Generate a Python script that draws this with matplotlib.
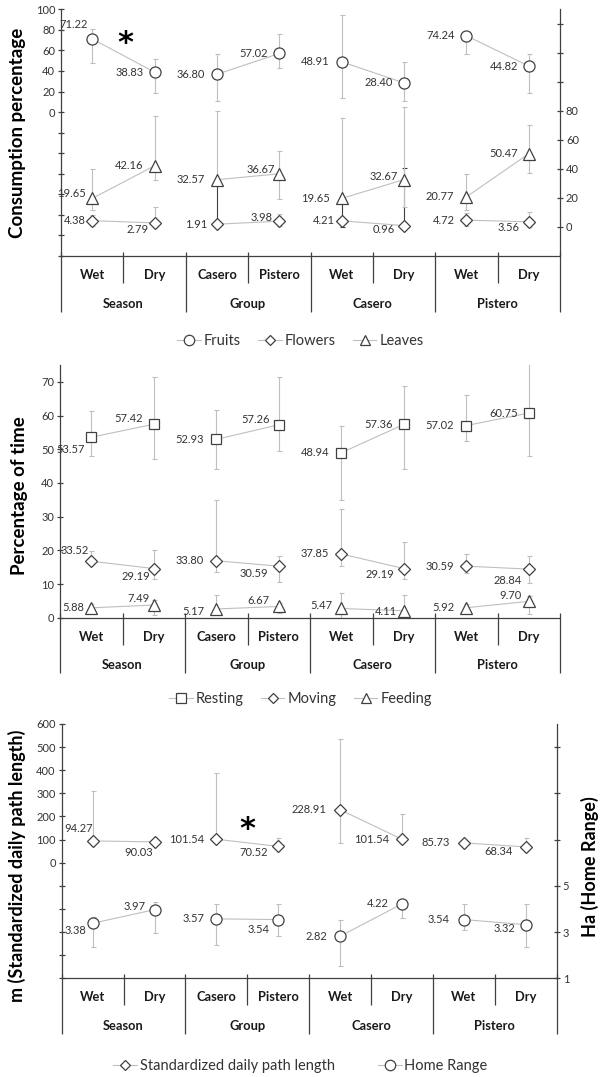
import matplotlib
matplotlib.use('Agg')
import matplotlib.pyplot as plt
from matplotlib.lines import Line2D

plt.rcParams['font.family'] = ['Lato', 'DejaVu Sans']
plt.rcParams['mathtext.fontset'] = 'dejavusans'

# ---------------- data ----------------
sub_labels = ['Wet', 'Dry', 'Casero', 'Pistero', 'Wet', 'Dry', 'Wet', 'Dry']
group_labels = ['Season', 'Group', 'Casero', 'Pistero']

# panel 1: diet
fruits = [71.22, 38.83, 36.80, 57.02, 48.91, 28.40, 74.24, 44.82]
fruits_lo = [47.5, 18.1, 10.7, 42.5, 13.3, 10.4, 57.0, 18.1]
fruits_hi = [80.7, 51.8, 57.0, 75.8, 94.6, 48.6, 78.0, 56.4]
flowers = [4.38, 2.79, 1.91, 3.98, 4.21, 0.96, 4.72, 3.56]
flowers_lo = [1.0, 0.0, 0.5, 1.0, 0.0, 0.0, 1.0, 0.0]
flowers_hi = [8.0, 13.6, 30.0, 9.0, 18.0, 40.7, 9.6, 10.0]
leaves = [19.65, 42.16, 32.57, 36.67, 19.65, 32.67, 20.77, 50.47]
leaves_lo = [12.0, 32.4, 30.0, 19.3, 18.0, 14.0, 11.7, 37.4]
leaves_hi = [40.0, 76.6, 80.0, 52.6, 75.4, 83.0, 36.3, 70.3]

p1_left_ticks = [-140, -120, -100, -80, -60, -40, -20, 0, 20, 40, 60, 80, 100]
p1_left_labels = ['', '', '', '', '', '', '', '0', '20', '40', '60', '80', '100']
p1_right_ticks = [0, 20, 40, 60, 80, 100, 120, 140]
p1_right_labels = ['0', '20', '40', '60', '80', '', '', '']

# panel 2: activity budget
resting = [53.57, 57.42, 52.93, 57.26, 48.94, 57.36, 57.02, 60.75]
resting_lo = [47.9, 47.1, 44.2, 49.4, 35.0, 44.0, 52.4, 47.9]
resting_hi = [61.3, 71.3, 61.5, 71.5, 56.8, 68.8, 66.1, 80.0]
moving = [33.52, 29.19, 33.80, 30.59, 37.85, 29.19, 30.59, 28.84]
moving_lo = [31.0, 23.0, 27.0, 21.0, 30.4, 23.0, 26.4, 20.5]
moving_hi = [39.3, 39.9, 70.0, 36.9, 64.7, 45.2, 37.7, 36.9]
feeding = [5.88, 7.49, 5.17, 6.67, 5.47, 4.11, 5.92, 9.70]
feeding_lo = [4.0, 1.6, 2.0, 3.0, 0.0, 0.0, 4.0, 2.2]
feeding_hi = [8.0, 10.5, 13.5, 8.5, 14.5, 13.5, 8.0, 12.9]

p2_ticks = [0, 10, 20, 30, 40, 50, 60, 70]
p2_labels = ['0', '10', '20', '30', '40', '50', '60', '70']

# panel 3: ranging
path = [94.27, 90.03, 101.54, 70.52, 228.91, 101.54, 85.73, 68.34]
path_lo = [80.0, 85.0, 90.0, 60.0, 85.0, 95.0, 80.0, 60.0]
path_hi = [309.0, 95.0, 388.0, 107.0, 533.0, 212.0, 95.0, 107.0]
home = [3.38, 3.97, 3.57, 3.54, 2.82, 4.22, 3.54, 3.32]
home_lo = [2.36, 2.98, 2.43, 2.82, 1.54, 3.62, 3.10, 2.36]
home_hi = [3.65, 4.32, 4.22, 4.20, 3.51, 4.30, 4.22, 4.22]

p3_left_ticks = [-500, -400, -300, -200, -100, 0, 100, 200, 300, 400, 500, 600]
p3_left_labels = ['', '', '', '', '', '0', '100', '200', '300', '400', '500', '600']
p3_right_ticks = [1, 3, 5, 7, 9, 11]
p3_right_labels = ['1', '3', '5', '', '', '']

# ---------------- style ----------------
W, H = 601, 1077
fig = plt.figure(figsize=(W / 100, H / 100), dpi=100)

AX = '#404040'
ERR = '#bfbfbf'
LINE = '#bfbfbf'
TXT = '#333333'
X = list(range(8))
PAIRS = [(0, 1), (2, 3), (4, 5), (6, 7)]


def add_axes(left, right, top, bottom):
    return fig.add_axes([left / W, 1 - bottom / H, (right - left) / W, (bottom - top) / H])


def style_axis(ax, side):
    for s in ['top', 'bottom', 'left', 'right']:
        ax.spines[s].set_visible(False)
    if side:
        ax.spines[side].set_visible(True)
        ax.spines[side].set_color(AX)
        ax.spines[side].set_linewidth(0.9)
    ax.tick_params(axis='y', direction='inout', length=4.5, width=0.9, color=AX,
                   labelsize=8, labelcolor=TXT, pad=2)
    ax.set_xticks([])


def cat_axis(ax, h_px):
    tr = ax.get_xaxis_transform()
    k = dict(color=AX, lw=0.9, transform=tr, clip_on=False, solid_capstyle='butt')
    up = 4.5 / h_px
    ax.plot([-0.5, 7.5], [0, 0], **k)
    for b in [0.5, 2.5, 4.5, 6.5]:
        ax.plot([b, b], [up, -27 / h_px], **k)
    for b in [-0.5, 1.5, 3.5, 5.5, 7.5]:
        ax.plot([b, b], [up, -55.5 / h_px], **k)
    for i, lab in enumerate(sub_labels):
        ax.text(i, -19 / h_px, lab, transform=tr, ha='center', va='center',
                fontsize=9.3, fontweight='bold', color='#1a1a1a')
    for g, lab in enumerate(group_labels):
        ax.text(2 * g + 0.5, -47.5 / h_px, lab, transform=tr, ha='center', va='center',
                fontsize=9.3, fontweight='bold', color='#1a1a1a')


def series(ax, vals, lo, hi, marker, ms, offs, err_colors=None):
    for i in X:
        c = err_colors[i] if err_colors else ERR
        ax.errorbar([i], [vals[i]], yerr=[[vals[i] - lo[i]], [hi[i] - vals[i]]], fmt='none',
                    ecolor=c, elinewidth=0.8, capsize=1.8, capthick=0.8, zorder=1)
    for a, b in PAIRS:
        ax.plot([a, b], [vals[a], vals[b]], color=LINE, lw=0.8, zorder=2)
    ax.plot(X, vals, linestyle='none', marker=marker, ms=ms, mfc='white', mec=AX, mew=0.9, zorder=3)
    for i in X:
        dx, dy = offs[i]
        ax.annotate(f'{vals[i]:.2f}', xy=(i, vals[i]), xytext=(dx * 0.72, dy * 0.72),
                    textcoords='offset points', ha='right', va='center', fontsize=8,
                    color=TXT, zorder=4)


def legend(handles, labels, y_px, spacing):
    fig.legend(handles, labels, loc='center', bbox_to_anchor=(0.5, 1 - y_px / H), ncol=len(labels),
               frameon=False, fontsize=10.5, handlelength=1.6, handletextpad=0.2,
               columnspacing=spacing, labelcolor=TXT)


def handle(marker, ms):
    return Line2D([0], [0], color=LINE, lw=0.8, marker=marker, ms=ms, mfc='white', mec=AX, mew=0.9)


def star(x_px, y_px):
    fig.text(x_px / W, 1 - y_px / H, r'$\mathbf{*}$', ha='center', va='center', fontsize=22,
             color='#000000')


# ---------------- panel 1 ----------------
t, b = 9.3, 256
ax1 = add_axes(61, 560, t, b)
ax1.set_xlim(-0.5, 7.5)
ax1.set_ylim(-140, 100)
style_axis(ax1, 'left')
ax1.set_yticks(p1_left_ticks)
ax1.set_yticklabels(p1_left_labels)
ax1b = ax1.twinx()
ax1b.set_ylim(-20, 150)
style_axis(ax1b, 'right')
ax1b.set_yticks(p1_right_ticks)
ax1b.set_yticklabels(p1_right_labels)
ax1b.set_xlim(-0.5, 7.5)

series(ax1, fruits, fruits_lo, fruits_hi, 'o', 8,
       [(-4, 14), (-11, 0), (-12, 0), (-11, 0), (-12, 0), (-11, 0), (-12, 0), (-11, 0)])
dark = [ERR, ERR, AX, ERR, AX, AX, ERR, ERR]
series(ax1b, flowers, flowers_lo, flowers_hi, 'D', 5.8,
       [(-7, 0), (-6, -7), (-10, 0), (-7, 4), (-7, 0), (-9, -4), (-12, 0), (-9, -6)], dark)
series(ax1b, leaves, leaves_lo, leaves_hi, '^', 8,
       [(-6, 5), (-11, 0), (-12, 0), (-4, 4), (-12, 0), (-6, 3), (-12, 0), (-11, 0)])
cat_axis(ax1b, b - t)
star(126, 41.5)
fig.text(18 / W, 1 - 132.6 / H, 'Consumption percentage', rotation=90, ha='center', va='center',
         fontsize=13.5, fontweight='bold', color='#000000')
legend([handle('o', 7.5), handle('D', 5.3), handle('^', 7.5)], ['Fruits', 'Flowers', 'Leaves'], 341, 1.2)

# ---------------- panel 2 ----------------
t, b = 365, 617.7
ax2 = add_axes(60, 560, t, b)
ax2.set_xlim(-0.5, 7.5)
ax2.set_ylim(0, 75)
style_axis(ax2, 'left')
ax2.set_yticks(p2_ticks)
ax2.set_yticklabels(p2_labels)
ax2b = ax2.twinx()
ax2b.set_ylim(0, 150)
ax2b.set_xlim(-0.5, 7.5)
style_axis(ax2b, None)
ax2b.set_yticks([])

series(ax2, resting, resting_lo, resting_hi, 's', 7.8,
       [(-6, -12), (-11, 6), (-12, 0), (-9, 5), (-12, 0), (-11, 0), (-12, 0), (-11, 0)])
series(ax2b, moving, moving_lo, moving_hi, 'D', 5.8,
       [(-2, 11), (-3, -8), (-12, 0), (-11, -7), (-12, 0), (-9, -6), (-12, 0), (-7, -11)])
series(ax2b, feeding, feeding_lo, feeding_hi, '^', 8,
       [(-7, 0), (-4, 7), (-12, -3), (-9, 6), (-9, 3), (-7, -1), (-12, 0), (-7, 6)])
cat_axis(ax2b, b - t)
fig.text(20 / W, 1 - 496 / H, 'Percentage of time', rotation=90, ha='center', va='center',
         fontsize=13.5, fontweight='bold', color='#000000')
legend([handle('s', 7.3), handle('D', 5.3), handle('^', 7.5)], ['Resting', 'Moving', 'Feeding'], 699, 1.2)

# ---------------- panel 3 ----------------
t, b = 724, 978.3
ax3 = add_axes(61.7, 556.7, t, b)
ax3.set_xlim(-0.5, 7.5)
ax3.set_ylim(-500, 600)
style_axis(ax3, 'left')
ax3.set_yticks(p3_left_ticks)
ax3.set_yticklabels(p3_left_labels)
ax3b = ax3.twinx()
ax3b.set_ylim(1, 12)
ax3b.set_xlim(-0.5, 7.5)
style_axis(ax3b, 'right')
ax3b.set_yticks(p3_right_ticks)
ax3b.set_yticklabels(p3_right_labels)

series(ax3, path, path_lo, path_hi, 'D', 5.8,
       [(0, 12), (-2, -11), (-12, 0), (-10, -6), (-14, 0), (-13, 0), (-14, 0), (-13, -5)])
series(ax3b, home, home_lo, home_hi, 'o', 8,
       [(-6, -7), (-9, 3), (-12, 0), (-9, -10), (-13, 0), (-13, 0), (-14, 0), (-10, -4)])
cat_axis(ax3b, b - t)
star(248, 826.5)
fig.text(17 / W, 1 - 866 / H, 'm (Standardized daily path length)', rotation=90, ha='center',
         va='center', fontsize=13, fontweight='bold', color='#000000')
fig.text(590 / W, 1 - 867 / H, 'Ha (Home Range)', rotation=90, ha='center', va='center',
         fontsize=13, fontweight='bold', color='#000000')
legend([handle('D', 5.3), handle('o', 7.5)], ['Standardized daily path length', 'Home Range'], 1066, 3.0)

fig.savefig('out.png', dpi=100)
